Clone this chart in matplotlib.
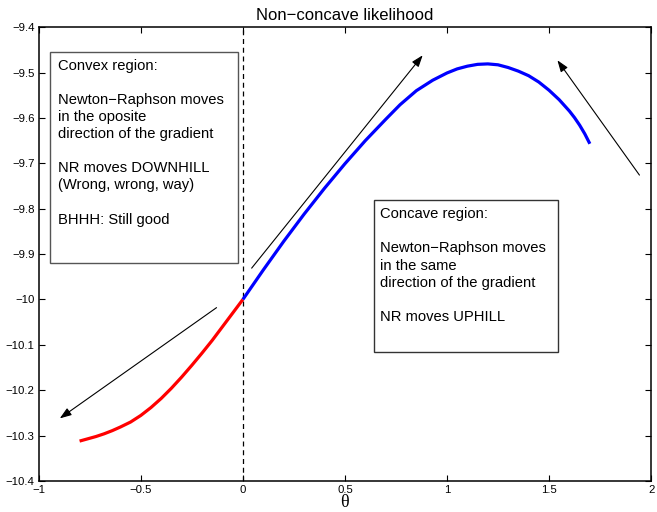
import matplotlib
matplotlib.use("Agg")
import matplotlib.pyplot as plt
from matplotlib.patches import Rectangle

# ---- data ----
red_x = [-0.80, -0.76, -0.72, -0.68, -0.64, -0.60, -0.55, -0.50, -0.45, -0.40,
         -0.35, -0.30, -0.25, -0.20, -0.15, -0.10, -0.05, 0.00]
red_y = [-10.312, -10.307, -10.302, -10.296, -10.289, -10.281, -10.270, -10.2555,
         -10.238, -10.218, -10.1955, -10.171, -10.145, -10.118, -10.090, -10.060,
         -10.030, -10.000]

blue_x = [0.00, 0.10, 0.20, 0.30, 0.40, 0.50, 0.60, 0.70, 0.77, 0.85, 0.93, 1.00,
          1.05, 1.10, 1.15, 1.20, 1.25, 1.30, 1.35, 1.40, 1.45, 1.50, 1.55, 1.60,
          1.625, 1.65, 1.675, 1.70]
blue_y = [-10.000, -9.935, -9.872, -9.812, -9.755, -9.701, -9.650, -9.603, -9.571,
          -9.540, -9.517, -9.501, -9.492, -9.486, -9.482, -9.481, -9.483, -9.489,
          -9.497, -9.507, -9.521, -9.539, -9.560, -9.585, -9.5995, -9.616, -9.635,
          -9.657]

x_ticks = [-1, -0.5, 0, 0.5, 1, 1.5, 2]
x_labels = ["\u22121", "\u22120.5", "0", "0.5", "1", "1.5", "2"]
y_ticks = [-10.4, -10.3, -10.2, -10.1, -10.0, -9.9, -9.8, -9.7, -9.6, -9.5, -9.4]
y_labels = ["\u221210.4", "\u221210.3", "\u221210.2", "\u221210.1", "\u221210",
            "\u22129.9", "\u22129.8", "\u22129.7", "\u22129.6", "\u22129.5", "\u22129.4"]

# arrows: (start, end) in data coordinates
arrows = [((-0.129, -10.018), (-0.897, -10.262)),
          ((0.043, -9.931), (0.881, -9.462)),
          ((1.943, -9.726), (1.541, -9.473))]

convex_text = ("Convex region:\n\nNewton\u2212Raphson moves\nin the oposite\n"
               "direction of the gradient\n\nNR moves DOWNHILL\n(Wrong, wrong, way)\n\n"
               "BHHH: Still good")
concave_text = ("Concave region:\n\nNewton\u2212Raphson moves\nin the same\n"
                "direction of the gradient\n\nNR moves UPHILL")

plt.rcParams['font.family'] = ['Liberation Sans', 'DejaVu Sans']

fig = plt.figure(figsize=(6.57, 5.12), dpi=100)
ax = fig.add_axes([0.059, 0.0605, 0.932, 0.8865])

ax.plot(red_x, red_y, color='#ff0000', lw=2.3, solid_capstyle='butt',
        solid_joinstyle='round', zorder=3)
ax.plot(blue_x, blue_y, color='#0000ff', lw=2.3, solid_capstyle='butt',
        solid_joinstyle='round', zorder=3)
ax.plot([0, 0], [-10.4, -9.4], color='black', lw=0.9, ls=(0, (4, 3)), zorder=2)

for (s, e) in arrows:
    ax.annotate("", xy=e, xytext=s,
                arrowprops=dict(arrowstyle='-|>,head_length=0.7,head_width=0.25',
                                color='black', lw=0.8, shrinkA=0, shrinkB=0))

ax.add_patch(Rectangle((-0.945, -9.920), 0.923, 0.466, fill=False,
                       edgecolor='#555555', lw=1.0, zorder=4))
ax.add_patch(Rectangle((0.644, -10.115), 0.899, 0.334, fill=False,
                       edgecolor='#333333', lw=1.0, zorder=4))

ax.text(-0.907, -9.470, convex_text, fontsize=10.6, va='top', ha='left',
        linespacing=1.28, zorder=5)
ax.text(0.672, -9.797, concave_text, fontsize=10.6, va='top', ha='left',
        linespacing=1.28, zorder=5)

ax.set_xlim(-1, 2)
ax.set_ylim(-10.4, -9.4)
ax.set_xticks(x_ticks)
ax.set_xticklabels(x_labels)
ax.set_yticks(y_ticks)
ax.set_yticklabels(y_labels)
ax.tick_params(direction='in', length=4, width=0.8, labelsize=8.2,
               top=True, right=True, pad=3)
for sp in ax.spines.values():
    sp.set_linewidth(1.1)

ax.set_title("Non\u2212concave likelihood", fontsize=12, pad=5)
ax.set_xlabel("\u03b8", fontsize=13, family='Liberation Serif', labelpad=-1)

fig.savefig("out.png", dpi=100)
